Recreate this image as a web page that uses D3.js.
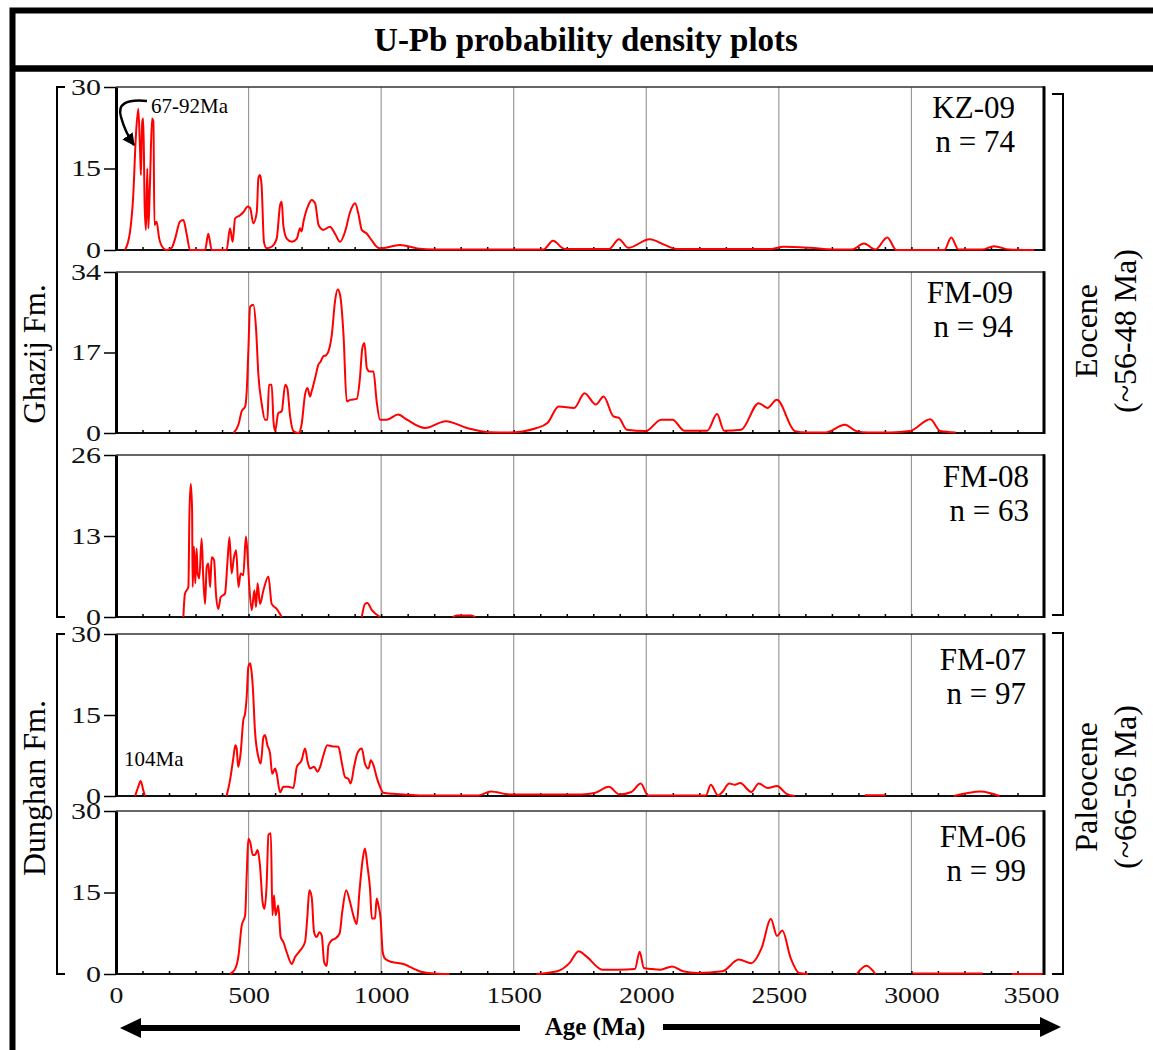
<!DOCTYPE html>
<html>
<head>
<meta charset="utf-8">
<script src="https://cdn.jsdelivr.net/npm/d3@7"></script>
<style>
  body { margin: 0; background: #fff; }
  svg { display: block; font-family: 'Liberation Serif', 'Times New Roman', serif; }
</style>
</head>
<body>
<svg id="chart" width="1153" height="1050"></svg>
<script>
// Samples, top to bottom
var samples = ['KZ-09', 'FM-09', 'FM-08', 'FM-07', 'FM-06']
var counts = [74, 94, 63, 97, 99]
var yMax = [30, 34, 26, 30, 30]
var ageTicks = [0, 500, 1000, 1500, 2000, 2500, 3000, 3500]

// PDP curves: [age (Ma), probability], null = gap
var kz09 = [[34,0],[53,3.4],[65,10],[75,21],[84,26],[91,18],[94,13.8],[99,23.6],[103,24.2],[108,8.3],[113,3.7],[118,15],[122,4],[128,12],[136,24.2],[141,23.6],[145,4.6],[153,5.2],[163,2.1],[179,0.3],[191,0],[210,0.4],[223,2.1],[241,5.2],[254,5.5],[267,2.8],[279,0],[336,0],[348,3],[361,0],[417,0],[430,4],[440,1.5],[449,5.8],[468,6.4],[481,7],[497,8],[506,7.7],[518,4.9],[531,7],[537,13.2],[543,13.8],[549,12],[558,1.5],[568,0.3],[587,0.6],[606,2.1],[619,8.3],[625,8.9],[631,4.6],[644,2.1],[663,1.5],[682,2.1],[694,4],[700,3.4],[707,5.2],[726,8.3],[738,9.2],[751,8.6],[764,4.6],[782,3.7],[807,4.3],[826,3],[845,1.5],[864,3.4],[883,7],[902,8.6],[914,6.7],[927,3.7],[946,3],[964,1.8],[983,0.6],[996,0.3],[1071,0.9],[1136,0.3],[1200,0.1],[1612,0.1],[1648,1.7],[1692,0.2],[1773,0.2],[1860,0.2],[1897,2],[1932,0.4],[2013,2],[2071,0.9],[2113,0.2],[2474,0.2],[2516,0.6],[2618,0.4],[2705,0.1],[2776,0.1],[2821,1.2],[2864,0.1],[2909,2.3],[2943,0],[3124,0],[3150,2.3],[3177,0.1],[3267,0.1],[3311,0.7],[3369,0.1],[3463,0]]

var fm09 = [[443,0],[462,1.8],[474,4.6],[487,5.6],[493,8.8],[499,17.2],[506,26.7],[518,27.1],[528,22.2],[537,12.3],[550,6],[562,2.8],[571,2.8],[577,10.2],[587,10.2],[594,2.5],[600,0.4],[612,4.2],[625,4.6],[638,10.2],[646,9.5],[656,3.9],[669,0.4],[688,0],[700,1.8],[713,8.1],[722,9.5],[732,7.7],[738,8.8],[751,11.6],[763,14.4],[772,15.1],[782,16.2],[792,16.4],[801,17.2],[814,20.8],[826,27.8],[836,30.3],[845,29.2],[858,20.8],[870,6.7],[883,7],[908,7.2],[920,11.6],[929,17.9],[937,19],[946,13.7],[956,13],[971,13],[983,6.7],[996,2.8],[1021,2.8],[1064,3.9],[1097,2.8],[1165,1.05],[1244,2.5],[1324,1.05],[1410,0.15],[1482,0.1],[1584,1],[1627,2.1],[1670,5.6],[1728,5.3],[1767,8.4],[1810,6],[1839,7.7],[1876,3.5],[1897,3.2],[1926,0.7],[1998,0.4],[2056,2.8],[2099,2.8],[2143,0.5],[2230,0.5],[2267,4],[2293,0.5],[2358,0.7],[2424,6.3],[2457,5.3],[2492,7],[2561,0.4],[2604,0.1],[2676,0.1],[2749,1.75],[2792,0.4],[2835,0.1],[2922,0.1],[2994,0.4],[3071,2.9],[3109,0.4],[3167,0.1]]

var fm08 = [[254,0],[260,3.75],[273,4.8],[277,16.6],[282,21.4],[287,17.2],[289,4.8],[294,11.3],[299,5.4],[304,11],[308,7],[314,6.2],[323,12.6],[329,6.4],[336,2.1],[342,8],[348,8.6],[355,4.8],[361,9.6],[370,9.1],[377,3.75],[386,1.3],[395,3.2],[411,3.75],[420,8.6],[428,12.8],[436,7],[445,9.6],[453,10.7],[462,4.8],[470,7],[480,6.7],[490,12.9],[495,10.7],[502,5.4],[512,1.1],[522,4.3],[528,1.6],[534,5.4],[543,2.1],[556,4.3],[575,6.5],[587,2.1],[606,1.3],[625,0],null,[927,0],[939,2.1],[948,2.25],[965,1.1],[996,0],null,[1270,0],[1285,0.25],[1340,0.25],[1355,0]]

var fm07 = [[72,0],[84,1.7],[93,2.8],[103,1.05],[109,0],null,[417,0],[430,2.9],[443,7.2],[450,9.4],[455,8.8],[461,5.4],[470,7.9],[480,14],[487,15.3],[493,18.4],[499,23.9],[506,24.6],[512,22.7],[516,20.2],[524,12.2],[537,7.2],[546,6],[556,10.9],[562,11.3],[571,9.4],[581,7.9],[589,4.1],[600,5.1],[606,4.1],[619,0.7],[631,1.7],[650,1.7],[669,1.5],[682,5.4],[700,6.6],[713,8.8],[723,6.3],[732,5.1],[747,5.4],[760,4.5],[770,5.4],[782,7.5],[797,9.4],[814,9.2],[839,9.1],[851,6.3],[864,3.5],[876,3.2],[885,2.3],[898,5.4],[910,7.9],[927,8.8],[939,6],[952,5.1],[961,6.6],[971,5.7],[983,3.5],[996,1.7],[1008,0.6],[1046,0.4],[1084,0.3],[1147,0.1],[1367,0.1],[1414,0.85],[1484,0.3],[1757,0.3],[1804,0.55],[1859,1.7],[1898,0.3],[1944,0.75],[1979,2.3],[2007,0.1],[2225,0.1],[2243,2.1],[2271,0.1],[2287,0.75],[2313,2.3],[2334,2.1],[2354,2.4],[2396,0.75],[2424,2.3],[2458,1.5],[2493,1.85],[2529,0.4],[2560,0],null,[2825,0.15],[2903,0.15],null,[3160,0],[3261,0.85],[3332,0]]

var fm06 = [[430,0],[449,0.9],[462,3.4],[474,8.9],[487,10.8],[493,18.2],[499,24.9],[506,24.3],[516,21.9],[524,21.9],[534,22.8],[543,20],[553,13.2],[560,12],[568,16.3],[575,25.6],[584,25.9],[590,10.8],[596,14.5],[602,10.8],[612,12.6],[621,6.8],[631,5.9],[644,4],[663,1.85],[675,3.1],[694,4.3],[713,5.9],[722,10.8],[729,15.4],[738,14.2],[747,7.7],[757,6.8],[767,7.7],[776,7.1],[785,2.2],[795,1.5],[801,5.2],[814,6.2],[826,6.5],[843,7.4],[854,11.7],[868,15.4],[883,13.2],[895,10.8],[908,9.2],[918,15.1],[931,21.3],[939,23.1],[948,20],[958,15.7],[965,10.2],[977,10.2],[983,13.9],[990,12.6],[998,10.2],[1006,4],[1015,2.8],[1040,2.2],[1084,1.85],[1122,1],[1150,0.4],[1173,0.2],[1258,0],null,[1586,0],[1664,0.5],[1710,2],[1745,4.2],[1773,3.3],[1835,0.8],[1897,0.8],[1957,0.9],[1975,4.1],[1991,1.1],[2022,0.9],[2053,0.8],[2097,1.4],[2139,0.5],[2193,0.2],[2287,0.5],[2349,2.65],[2396,2],[2435,4.8],[2470,10.1],[2493,7],[2513,8],[2544,3],[2576,0.2],[2610,0],null,[2794,0],[2830,1.5],[2864,0],null,[3004,0.1],[3269,0.1],null,[3378,0],[3496,0]]

var series = [kz09, fm09, fm08, fm07, fm06]

// Layout
var panel_top = [87, 272, 455, 634, 811]
var panel_bottom = [250, 433, 617, 796, 974]
var label_right = [1015, 1013, 1029, 1026, 1026]
var label_dy = [31, 31, 32, 36, 36]

var svg = d3.select('#chart')

svg.append('rect')
  .attr('width', 1153)
  .attr('height', 1050)
  .attr('fill', '#fff')

var x = d3.scaleLinear().domain([0, 3500]).range([116, 1044])

// Outer frame and title band
svg.append('rect')
  .attr('x', 12.5)
  .attr('y', 10.5)
  .attr('width', 1180)
  .attr('height', 1100)
  .attr('fill', 'none')
  .attr('stroke', '#000')
  .attr('stroke-width', 6)

svg.append('line')
  .attr('x1', 12)
  .attr('x2', 1153)
  .attr('y1', 68.5)
  .attr('y2', 68.5)
  .attr('stroke', '#000')
  .attr('stroke-width', 6.5)

svg.append('text')
  .text('U-Pb probability density plots')
  .attr('x', 586)
  .attr('y', 51)
  .attr('text-anchor', 'middle')
  .attr('font-weight', 'bold')
  .attr('font-size', 33)

var line = d3.line()
  .defined(d => d != null)
  .x(d => x(d[0]))
  .curve(d3.curveMonotoneX)

// digits in the picture are drawn a little wide
function stretch_digits(sel, per_char) {
  sel.attr('textLength', function() { return this.textContent.length * per_char })
    .attr('lengthAdjust', 'spacingAndGlyphs')
}

samples.forEach((sample, i) => {
  var top = panel_top[i]
  var bottom = panel_bottom[i]
  var y = d3.scaleLinear().domain([0, yMax[i]]).range([bottom, top])
  var g = svg.append('g').attr('class', 'panel-' + sample)

  // Gridlines every 500 Ma
  g.selectAll('line.grid')
    .data(ageTicks.slice(1, -1))
    .join('line')
    .attr('class', 'grid')
    .attr('x1', d => x(d))
    .attr('x2', d => x(d))
    .attr('y1', top)
    .attr('y2', bottom)
    .attr('stroke', '#999')
    .attr('stroke-width', 1.2)

  // Bottom axis with minor ticks every 100 Ma
  g.append('line')
    .attr('x1', x(0))
    .attr('x2', x(3500))
    .attr('y1', bottom)
    .attr('y2', bottom)
    .attr('stroke', '#111')
    .attr('stroke-width', 2)

  var minor = g.append('g')
    .attr('transform', 'translate(0,' + bottom + ')')
    .call(d3.axisBottom(x).tickValues(d3.range(100, 3500, 100)).tickSize(-3).tickFormat(''))
  minor.select('.domain').remove()
  minor.selectAll('.tick line').attr('stroke', '#000').attr('stroke-width', 1.5)

  // The PDP curve
  g.append('path')
    .datum(series[i])
    .attr('d', line.y(d => y(d[1])))
    .attr('fill', 'none')
    .attr('stroke', '#f00')
    .attr('stroke-width', 2)
    .attr('stroke-linejoin', 'round')

  // Top and right frame
  g.append('line')
    .attr('x1', x(0))
    .attr('x2', x(3500))
    .attr('y1', top)
    .attr('y2', top)
    .attr('stroke', '#333')
    .attr('stroke-width', 1.6)

  g.append('line')
    .attr('x1', x(3500))
    .attr('x2', x(3500))
    .attr('y1', top - 0.8)
    .attr('y2', bottom + 1)
    .attr('stroke', '#000')
    .attr('stroke-width', 3)

  // Left axis
  var ya = g.append('g')
    .attr('transform', 'translate(' + x(0) + ',0)')
    .attr('font-family', "'Liberation Serif', serif")
    .call(d3.axisLeft(y).tickValues([0, yMax[i] / 2, yMax[i]]).tickSize(12).tickSizeOuter(0).tickPadding(3).tickFormat(d3.format('d')))
  ya.attr('font-family', "'Liberation Serif', serif").attr('font-size', 23)
  ya.select('.domain').attr('stroke', '#000').attr('stroke-width', 3)
  ya.selectAll('.tick line').attr('stroke', '#000').attr('stroke-width', 1.5)
  ya.selectAll('.tick text')
    .attr('fill', '#111')
    .call(stretch_digits, 15)

  // Sample name and count
  g.append('text')
    .text(sample)
    .attr('x', label_right[i])
    .attr('y', top + label_dy[i])
    .attr('text-anchor', 'end')
    .attr('font-size', 31)
  g.append('text')
    .text('n = ' + counts[i])
    .attr('x', label_right[i])
    .attr('y', top + label_dy[i] + 34)
    .attr('text-anchor', 'end')
    .attr('font-size', 31)

  // Age labels under the last panel
  if (i == samples.length - 1) {
    var xa = g.append('g')
      .attr('transform', 'translate(0,' + bottom + ')')
      .call(d3.axisBottom(x).tickValues(ageTicks).tickSize(0).tickPadding(13).tickFormat(d3.format('d')))
    xa.attr('font-family', "'Liberation Serif', serif").attr('font-size', 23)
    xa.select('.domain').remove()
    xa.selectAll('.tick text')
      .attr('fill', '#111')
      .attr('dx', d => d == 3500 ? -13 : 0)
      .call(stretch_digits, 13.9)
  }
})

// Formation brackets on the left
svg.append('path')
  .attr('d', 'M65,87 H57 V617 H65')
  .attr('fill', 'none').attr('stroke', '#000').attr('stroke-width', 2)
svg.append('path')
  .attr('d', 'M65,634 H57 V974 H65')
  .attr('fill', 'none').attr('stroke', '#000').attr('stroke-width', 2)

svg.append('text')
  .text('Ghazij Fm.')
  .attr('transform', 'translate(45,354) rotate(-90)')
  .attr('text-anchor', 'middle')
  .attr('font-size', 31)
svg.append('text')
  .text('Dunghan Fm.')
  .attr('transform', 'translate(45,788) rotate(-90)')
  .attr('text-anchor', 'middle')
  .attr('font-size', 32)

// Epoch brackets on the right
svg.append('path')
  .attr('d', 'M1052,94 H1063 V615 H1052')
  .attr('fill', 'none').attr('stroke', '#000').attr('stroke-width', 2)
svg.append('path')
  .attr('d', 'M1052,633 H1063 V974 H1052')
  .attr('fill', 'none').attr('stroke', '#000').attr('stroke-width', 2)

var epochs = [['Eocene', '(~56-48 Ma)', 331], ['Paleocene', '(~66-56 Ma)', 787]]
epochs.forEach(e => {
  svg.append('text')
    .text(e[0])
    .attr('transform', 'translate(1097,' + e[2] + ') rotate(-90)')
    .attr('text-anchor', 'middle')
    .attr('font-size', 32)
  svg.append('text')
    .text(e[1])
    .attr('transform', 'translate(1136,' + e[2] + ') rotate(-90)')
    .attr('text-anchor', 'middle')
    .attr('font-size', 32)
})

// Annotations
var defs = svg.append('defs')
defs.append('marker')
  .attr('id', 'head')
  .attr('viewBox', '0 0 10 10')
  .attr('refX', 9)
  .attr('refY', 5)
  .attr('markerWidth', 5)
  .attr('markerHeight', 5)
  .attr('orient', 'auto')
  .append('path')
  .attr('d', 'M0,0 L10,5 L0,10 z')
  .attr('fill', '#000')

svg.append('path')
  .attr('d', 'M147,101 C126,99 117,104 121,117 C124,128 129,138 134,145')
  .attr('fill', 'none')
  .attr('stroke', '#000')
  .attr('stroke-width', 2.5)
  .attr('marker-end', 'url(#head)')

svg.append('text')
  .text('67-92Ma')
  .attr('x', 151)
  .attr('y', 113)
  .attr('font-size', 21)
svg.append('text')
  .text('104Ma')
  .attr('x', 124)
  .attr('y', 766)
  .attr('font-size', 21)

// Age arrows under the axis
svg.append('line')
  .attr('x1', 520).attr('x2', 138)
  .attr('y1', 1028).attr('y2', 1028)
  .attr('stroke', '#000').attr('stroke-width', 6)
svg.append('path')
  .attr('d', 'M120,1028 L141,1018 L141,1038 Z')
  .attr('fill', '#000')
svg.append('line')
  .attr('x1', 663).attr('x2', 1043)
  .attr('y1', 1027).attr('y2', 1027)
  .attr('stroke', '#000').attr('stroke-width', 6)
svg.append('path')
  .attr('d', 'M1061,1027 L1040,1017 L1040,1037 Z')
  .attr('fill', '#000')

svg.append('text')
  .text('Age (Ma)')
  .attr('x', 595)
  .attr('y', 1035)
  .attr('text-anchor', 'middle')
  .attr('font-weight', 'bold')
  .attr('font-size', 25)
</script>
</body>
</html>
